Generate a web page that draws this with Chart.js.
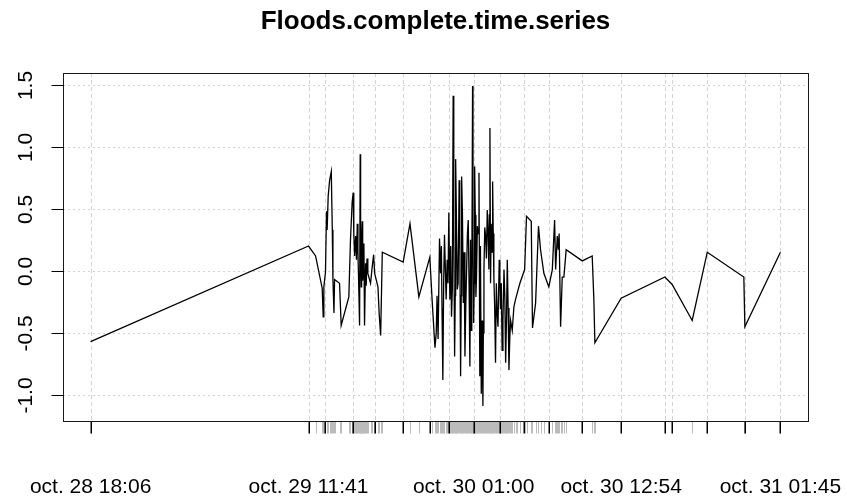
<!DOCTYPE html>
<html>
<head>
<meta charset="utf-8">
<title>Floods.complete.time.series</title>
<script src="https://cdn.jsdelivr.net/npm/chart.js"></script>
<style>
    html, body { margin: 0; padding: 0; background: #ffffff; }
    canvas { display: block; }
</style>
</head>
<body>
<canvas id="floodChart" width="847" height="500"></canvas>
<script>
// minutes elapsed since oct. 28 18:06
const obsMinutes = [
    0, 1055, 1089, 1121, 1126, 1129, 1137, 1142, 1145, 1150,
    1157, 1165, 1170, 1173, 1178, 1181, 1205, 1213, 1250, 1258,
    1266, 1271, 1274, 1278, 1283, 1287, 1291, 1294, 1297, 1302,
    1305, 1307, 1310, 1312, 1315, 1317, 1320, 1323, 1326, 1331,
    1334, 1338, 1342, 1355, 1363, 1370, 1375, 1391, 1397, 1404,
    1412, 1513, 1546, 1589, 1642, 1654, 1667, 1673, 1677, 1682,
    1689, 1694, 1698, 1701, 1705, 1709, 1713, 1721, 1726, 1730,
    1734, 1739, 1743, 1747, 1751, 1755, 1758, 1762, 1765, 1767,
    1771, 1775, 1779, 1784, 1787, 1791, 1794, 1796, 1800, 1804,
    1808, 1812, 1816, 1820, 1824, 1828, 1832, 1836, 1839, 1842,
    1845, 1849, 1851, 1854, 1857, 1859, 1862, 1865, 1868, 1872,
    1876, 1880, 1884, 1887, 1891, 1895, 1899, 1901, 1904, 1908,
    1912, 1916, 1920, 1924, 1928, 1930, 1933, 1936, 1939, 1943,
    1946, 1949, 1952, 1956, 1960, 1964, 1968, 1972, 1978, 1981,
    1984, 1988, 1992, 1996, 2001, 2005, 2009, 2013, 2017, 2021,
    2025, 2029, 2033, 2041, 2049, 2057, 2065, 2078, 2101, 2110,
    2133, 2139, 2154, 2168, 2178, 2194, 2218, 2235, 2246, 2251,
    2259, 2264, 2268, 2275, 2283, 2291, 2302, 2380, 2428, 2436,
    2441, 2568, 2780, 2815, 2912, 2985, 3162, 3167, 3339];

const obsValues = [
    -0.57, 0.20, 0.12, -0.14, -0.37, -0.13, -0.01, 0.48, 0.33, 0.60,
    0.73, 0.80, 0.33, -0.07, -0.34, -0.07, -0.10, -0.44, -0.21, 0.25,
    0.55, 0.63, 0.30, 0.12, 0.28, 0.09, 0.38, 0.15, -0.05, -0.44,
    0.94, 0.20, -0.13, 0.25, 0.40, -0.08, 0.01, 0.22, -0.44, 0.06,
    -0.12, 0.10, -0.02, -0.10, 0.03, 0.13, -0.02, -0.13, -0.35, -0.52,
    0.15, 0.07, 0.38, -0.21, 0.11, -0.26, -0.62, -0.50, -0.20, -0.55,
    0.26, -0.02, 0.20, -0.30, -0.88, -0.10, 0.29, -0.23, 0.09, -0.10,
    0.47, -0.23, 0.20, -0.37, -0.15, 1.41, 0.35, -0.69, -0.20, 0.90,
    0.40, -0.15, -0.10, 0.73, 0.30, -0.85, -0.20, 0.76, 0.45, -0.26,
    0.15, -0.69, -0.30, 0.01, 0.30, 0.41, -0.10, -0.77, 0.25, -0.48,
    -0.20, 1.49, 0.30, -0.42, -0.10, 0.84, 0.45, -0.21, -0.05, 0.36,
    0.30, 0.79, -0.85, 0.20, -0.99, -0.40, -1.09, -0.50, 0.01, 0.35,
    0.28, 0.10, 0.49, 0.30, 0.01, 0.45, 1.15, -0.10, 0.38, 0.15,
    0.72, 0.30, -0.05, -0.30, -0.74, -0.10, -0.34, -0.45, 0.09, -0.05,
    -0.31, -0.10, -0.64, -0.40, 0.01, -0.20, -0.74, -0.40, 0.09, -0.30,
    -0.80, -0.55, -0.40, -0.48, -0.29, -0.23, -0.18, -0.10, 0.01, 0.44,
    0.40, -0.46, -0.26, 0.36, 0.17, -0.02, -0.13, 0.01, 0.41, 0.01,
    0.28, 0.17, 0.30, -0.45, -0.05, -0.05, 0.17, 0.08, 0.12, -0.23,
    -0.58, -0.22, -0.05, -0.11, -0.40, 0.15, -0.05, -0.45, 0.15];

// major ticks (with vertical grid lines), only some of them get a label
const majorMinutes = [0, 1055, 1137, 1270, 1375, 1513, 1642, 1736, 1854, 1980, 2097, 2220, 2380, 2568, 2780, 2815, 2985, 3167, 3339];
const xLabelMinutes = [0, 1055, 1854, 2568, 3339];
const xLabels = ['oct. 28 18:06', 'oct. 29 11:41', 'oct. 30 01:00', 'oct. 30 12:54', 'oct. 31 01:45'];
const yTicks = [-1.0, -0.5, 0.0, 0.5, 1.0, 1.5];

const chartTitle = 'Floods.complete.time.series';
const FONT = "'Liberation Sans', Arial, sans-serif";

function crisp(v) {
    return Math.round(v) + 0.5;
}

const rStyleAxes = {
    id: 'rStyleAxes',
    beforeDraw(chart) {
        const ctx = chart.ctx;
        ctx.save();
        ctx.fillStyle = '#ffffff';
        ctx.fillRect(0, 0, chart.width, chart.height);
        ctx.restore();
    },
    beforeDatasetsDraw(chart) {
        const ctx = chart.ctx;
        const area = chart.chartArea;
        const xs = chart.scales.x;
        const ys = chart.scales.y;

        ctx.save();
        ctx.lineWidth = 1;
        ctx.strokeStyle = '#d3d3d3';

        // horizontal dotted grid
        ctx.setLineDash([2, 3]);
        yTicks.forEach(v => {
            const y = crisp(ys.getPixelForValue(v));
            ctx.beginPath();
            ctx.moveTo(area.left, y);
            ctx.lineTo(area.right, y);
            ctx.stroke();
        });

        // vertical dashed grid at major ticks
        ctx.setLineDash([4, 3]);
        majorMinutes.forEach(m => {
            const x = crisp(xs.getPixelForValue(m));
            ctx.beginPath();
            ctx.moveTo(x, area.top);
            ctx.lineTo(x, area.bottom);
            ctx.stroke();
        });
        ctx.restore();
    },
    afterDatasetsDraw(chart) {
        const ctx = chart.ctx;
        const area = chart.chartArea;
        const xs = chart.scales.x;
        const ys = chart.scales.y;
        const tickLen = 12;

        ctx.save();
        ctx.setLineDash([]);
        ctx.lineWidth = 1;

        // box
        ctx.strokeStyle = '#1a1a1a';
        ctx.strokeRect(crisp(area.left), crisp(area.top), Math.round(area.right - area.left), Math.round(area.bottom - area.top));

        const bottom = crisp(area.bottom);

        // minor ticks at every observation (rug)
        ctx.strokeStyle = '#bbbbbb';
        obsMinutes.forEach(m => {
            const x = crisp(xs.getPixelForValue(m));
            ctx.beginPath();
            ctx.moveTo(x, bottom);
            ctx.lineTo(x, bottom + tickLen);
            ctx.stroke();
        });

        // major ticks
        ctx.strokeStyle = '#000000';
        ctx.lineWidth = 1.5;
        majorMinutes.forEach(m => {
            const x = Math.round(xs.getPixelForValue(m)) + 0.25;
            ctx.beginPath();
            ctx.moveTo(x, bottom);
            ctx.lineTo(x, bottom + tickLen);
            ctx.stroke();
        });

        // redraw the bottom axis line over the ticks
        ctx.lineWidth = 1;
        ctx.strokeStyle = '#1a1a1a';
        ctx.beginPath();
        ctx.moveTo(area.left, bottom);
        ctx.lineTo(area.right + 1, bottom);
        ctx.stroke();

        // y ticks and rotated labels
        ctx.strokeStyle = '#000000';
        ctx.fillStyle = '#000000';
        ctx.font = '21px ' + FONT;
        ctx.textAlign = 'center';
        ctx.textBaseline = 'middle';
        yTicks.forEach(v => {
            const y = crisp(ys.getPixelForValue(v));
            ctx.beginPath();
            ctx.moveTo(crisp(area.left) - tickLen, y);
            ctx.lineTo(crisp(area.left), y);
            ctx.stroke();

            ctx.save();
            ctx.translate(26, y);
            ctx.rotate(-Math.PI / 2);
            ctx.fillText(v.toFixed(1), 0, 0);
            ctx.restore();
        });

        // x labels
        xLabels.forEach((label, i) => {
            const x = xs.getPixelForValue(xLabelMinutes[i]);
            ctx.fillText(label, x, 487);
        });

        // title
        ctx.font = 'bold 26px ' + FONT;
        ctx.fillText(chartTitle, (area.left + area.right) / 2, 22);

        ctx.restore();
    }
};

const points = obsMinutes.map((m, i) => ({ x: m, y: obsValues[i] }));

new Chart(document.getElementById('floodChart'), {
    type: 'line',
    data: {
        datasets: [{
            data: points,
            borderColor: '#000000',
            borderWidth: 1.3,
            pointRadius: 0,
            tension: 0,
            fill: false
        }]
    },
    options: {
        responsive: false,
        animation: false,
        devicePixelRatio: 1,
        layout: {
            padding: { left: 63, top: 73, right: 39, bottom: 79 }
        },
        scales: {
            x: {
                type: 'linear',
                min: -133.56,
                max: 3472.56,
                display: false
            },
            y: {
                type: 'linear',
                min: -1.21,
                max: 1.594,
                display: false
            }
        },
        plugins: {
            legend: { display: false },
            tooltip: { enabled: false },
            title: { display: false }
        }
    },
    plugins: [rStyleAxes]
});
</script>
</body>
</html>
